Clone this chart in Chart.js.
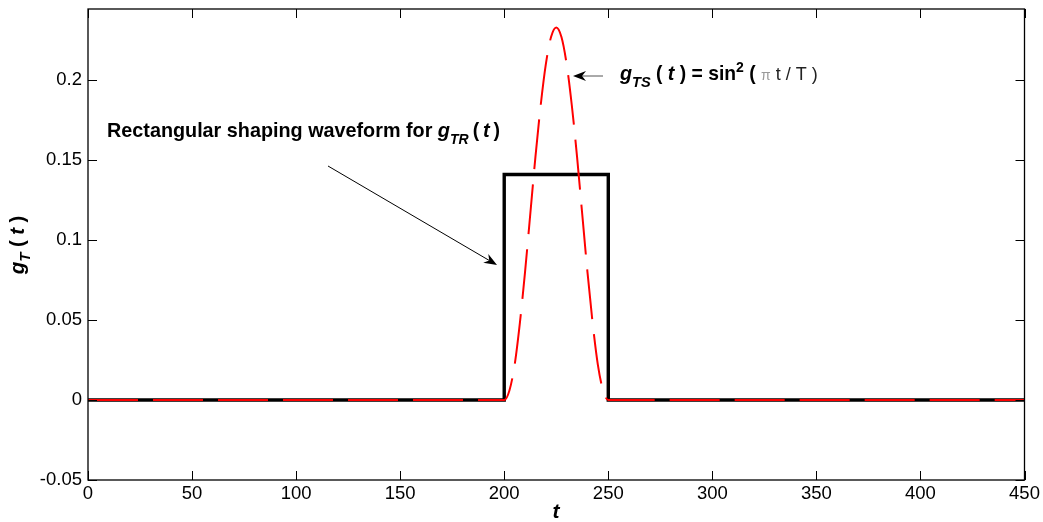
<!DOCTYPE html>
<html lang="en">
<head>
    <meta charset="UTF-8">
    <title>Shaping waveforms</title>
    <script src="https://cdn.jsdelivr.net/npm/chart.js"></script>
    <style>
        body {
            margin: 0;
            background: #fff;
        }
        #wrap {
            width: 1043px;
            height: 522px;
        }
    </style>
</head>
<body>

<div id="wrap">
    <canvas id="pulseChart" width="1043" height="522"></canvas>
</div>

<script>
    // rectangular pulse g_TR(t)
    const rectT = [0, 200, 200, 250, 250, 450];
    const rectG = [0, 0, 0.141, 0.141, 0, 0];

    // sin^2 pulse g_TS(t)
    const sinT = [0, 200, 202.5, 205, 207.5, 210, 212.5, 215, 217.5, 220, 222.5, 225,
                  227.5, 230, 232.5, 235, 237.5, 240, 242.5, 245, 247.5, 250, 450];
    const sinG = [0, 0, 0.006, 0.022, 0.048, 0.080, 0.116, 0.152, 0.184, 0.210, 0.227, 0.233,
                  0.227, 0.210, 0.184, 0.152, 0.116, 0.080, 0.048, 0.022, 0.006, 0, 0];

    const xTicks = [0, 50, 100, 150, 200, 250, 300, 350, 400, 450];
    const yTicks = [-0.05, 0, 0.05, 0.1, 0.15, 0.2];

    const toPts = (xs, ys) => xs.map((x, i) => ({x: x, y: ys[i]}));

    const FONT = '"Liberation Sans", Arial, sans-serif';

    // draw a run of text pieces (for sub/superscripts)
    function drawRuns(ctx, x, y, runs) {
        let cx = x;
        runs.forEach(r => {
            ctx.font = r.font;
            ctx.fillStyle = r.color || '#000';
            ctx.fillText(r.t, cx, y + (r.dy || 0));
            cx += ctx.measureText(r.t).width;
        });
        return cx;
    }

    function runsWidth(ctx, runs) {
        let w = 0;
        runs.forEach(r => { ctx.font = r.font; w += ctx.measureText(r.t).width; });
        return w;
    }

    function arrow(ctx, x1, y1, x2, y2, color) {
        const a = Math.atan2(y2 - y1, x2 - x1);
        const len = 13, hw = 5, back = 9;
        ctx.save();
        ctx.strokeStyle = color;
        ctx.lineWidth = 1;
        ctx.beginPath();
        ctx.moveTo(x1, y1);
        ctx.lineTo(x2 - Math.cos(a) * back, y2 - Math.sin(a) * back);
        ctx.stroke();
        ctx.translate(x2, y2);
        ctx.rotate(a);
        ctx.fillStyle = '#000';
        ctx.beginPath();
        ctx.moveTo(0, 0);
        ctx.lineTo(-len, -hw);
        ctx.lineTo(-back, 0);
        ctx.lineTo(-len, hw);
        ctx.closePath();
        ctx.fill();
        ctx.restore();
    }

    const decorPlugin = {
        id: 'decor',
        afterDatasetsDraw(chart) {
            const ctx = chart.ctx;
            const a = chart.chartArea;
            const xs = chart.scales.x, ys = chart.scales.y;
            ctx.save();

            // axes box
            ctx.strokeStyle = '#000';
            ctx.lineWidth = 1.3;
            ctx.strokeRect(a.left, a.top, a.right - a.left, a.bottom - a.top);

            // inward ticks on all four sides
            const tl = 9;
            ctx.lineWidth = 1;
            ctx.beginPath();
            xTicks.forEach(v => {
                const px = Math.round(xs.getPixelForValue(v)) + 0.5;
                ctx.moveTo(px, a.bottom); ctx.lineTo(px, a.bottom - tl);
                ctx.moveTo(px, a.top); ctx.lineTo(px, a.top + tl);
            });
            yTicks.forEach(v => {
                const py = Math.round(ys.getPixelForValue(v)) + 0.5;
                ctx.moveTo(a.left, py); ctx.lineTo(a.left + tl, py);
                ctx.moveTo(a.right, py); ctx.lineTo(a.right - tl, py);
            });
            ctx.stroke();

            ctx.textBaseline = 'alphabetic';
            ctx.textAlign = 'left';

            const B = s => 'bold ' + s + 'px ' + FONT;
            const BI = s => 'italic bold ' + s + 'px ' + FONT;
            const R = s => s + 'px ' + FONT;

            // annotation: rectangular pulse
            drawRuns(ctx, 107, 137, [
                {t: 'Rectangular shaping waveform for ', font: B(19.8)},
                {t: 'g', font: BI(20)},
                {t: 'TR', font: BI(14), dy: 7},
                {t: '\u2009(\u2009', font: B(19.5)},
                {t: 't', font: BI(20)},
                {t: '\u2009)', font: B(19.5)}
            ]);
            arrow(ctx, 328, 166, 497, 265, '#000');

            // annotation: sin^2 pulse
            drawRuns(ctx, 620, 80, [
                {t: 'g', font: BI(19.8)},
                {t: 'TS', font: BI(14.6), dy: 7},
                {t: ' ( ', font: B(19.3)},
                {t: 't', font: BI(19.8)},
                {t: ' ) = sin', font: B(19.3)},
                {t: '2', font: B(14), dy: -8},
                {t: ' ( ', font: B(19.3)},
                {t: '\u03c0', font: R(14), color: '#999'},
                {t: ' t / T )', font: R(18), color: '#222'}
            ]);
            arrow(ctx, 603, 76, 573, 76, '#555');

            // x title
            ctx.textAlign = 'center';
            ctx.font = BI(21);
            ctx.fillStyle = '#000';
            ctx.fillText('t', 556, 518);

            // y title (rotated, with subscript)
            const yRuns = [
                {t: 'g', font: BI(20.5)},
                {t: 'T', font: BI(15), dy: 6},
                {t: ' ( ', font: B(20)},
                {t: 't', font: BI(20.5)},
                {t: ' )', font: B(20)}
            ];
            const w = runsWidth(ctx, yRuns);
            ctx.translate(24, 245);
            ctx.rotate(-Math.PI / 2);
            ctx.textAlign = 'left';
            drawRuns(ctx, -w / 2, 0, yRuns);

            ctx.restore();
        }
    };

    const ctx = document.getElementById('pulseChart').getContext('2d');

    new Chart(ctx, {
        type: 'scatter',
        data: {
            datasets: [
                {
                    label: 'g_TS',
                    data: toPts(sinT, sinG),
                    showLine: true,
                    borderColor: '#ff0000',
                    borderWidth: 2,
                    borderDash: [50, 15],
                    cubicInterpolationMode: 'monotone',
                    pointRadius: 0,
                    fill: false,
                    order: 0
                },
                {
                    label: 'g_TR',
                    data: toPts(rectT, rectG),
                    showLine: true,
                    borderColor: '#000000',
                    borderWidth: 3.4,
                    borderJoinStyle: 'miter',
                    pointRadius: 0,
                    fill: false,
                    order: 1
                }
            ]
        },
        options: {
            responsive: false,
            animation: false,
            layout: {
                padding: {top: 9, right: 18.5, left: 0, bottom: 0}
            },
            scales: {
                x: {
                    type: 'linear',
                    min: 0,
                    max: 450,
                    afterFit: s => {
                        s.height = 42;
                        s.paddingLeft = 0;
                        s.paddingRight = 0;
                    },
                    afterBuildTicks: s => { s.ticks = xTicks.map(v => ({value: v})); },
                    grid: {display: false, drawTicks: false},
                    border: {display: false},
                    ticks: {
                        padding: 3,
                        color: '#000',
                        font: {family: FONT, size: 18.5},
                        maxRotation: 0,
                        callback: v => String(v)
                    }
                },
                y: {
                    type: 'linear',
                    min: -0.05,
                    max: 0.2445,
                    afterFit: s => {
                        s.width = 88;
                        s.paddingTop = 0;
                        s.paddingBottom = 0;
                    },
                    afterBuildTicks: s => { s.ticks = yTicks.map(v => ({value: v})); },
                    grid: {display: false, drawTicks: false},
                    border: {display: false},
                    ticks: {
                        padding: 6,
                        color: '#000',
                        font: {family: FONT, size: 18.5},
                        callback: v => String(Math.round(v * 100) / 100)
                    }
                }
            },
            plugins: {
                legend: {display: false},
                tooltip: {enabled: false}
            }
        },
        plugins: [decorPlugin]
    });
</script>

</body>
</html>
